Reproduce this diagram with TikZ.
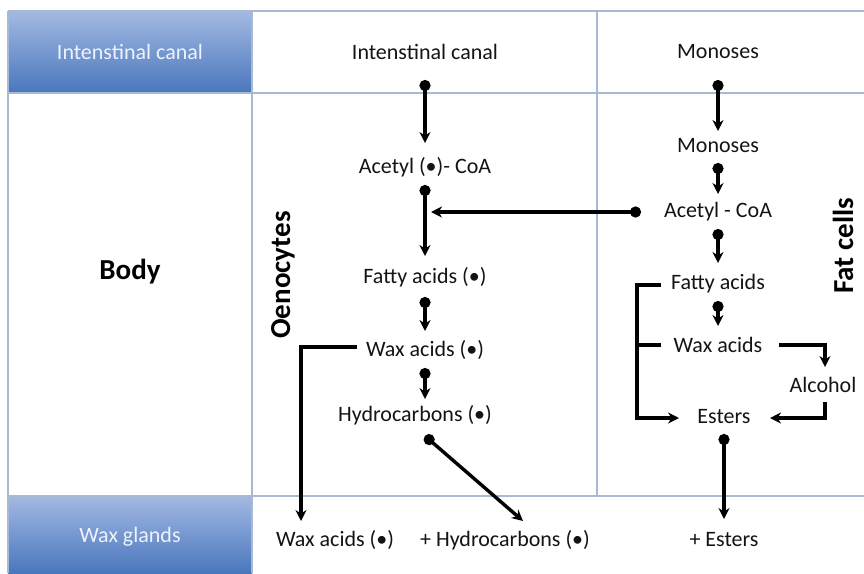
\documentclass[tikz,border=0pt]{standalone}
\usepackage{fontspec}
\setmainfont{Carlito}
\usetikzlibrary{arrows.meta}
\definecolor{gridc}{HTML}{A7B9D3}
\definecolor{bluetop}{HTML}{A3B9E2}
\definecolor{bluebot}{HTML}{4977BD}
\definecolor{celltext}{HTML}{EEF2FA}
\begin{document}
\begin{tikzpicture}[x=1pt,y=-1pt,
  lbl/.style={font=\fontsize{22}{24}\selectfont, inner sep=1pt, text=black!92},
  hdr/.style={font=\fontsize{22}{24}\selectfont, inner sep=1pt, text=celltext},
  big/.style={font=\fontsize{29}{32}\selectfont\bfseries, inner sep=1pt},
  gridl/.style={draw=gridc, line width=1.2pt},
  flow/.style={line width=3.4pt, -{Stealth[length=11pt,width=11pt]}},
  dotflow/.style={line width=3.4pt, {Circle[length=11pt,width=11pt]}-{Stealth[length=11pt,width=11pt]}},
  plain/.style={line width=3.4pt}]
\useasboundingbox (0,0) rectangle (864,573);
% blue header cells
\shade[top color=bluetop, bottom color=bluebot] (8,11) rectangle (252,93);
\shade[top color=bluetop, bottom color=bluebot] (8,496) rectangle (252,573);
% grid
\draw[gridl] (8,11) -- (864,11);
\draw[gridl] (8,93) -- (864,93);
\draw[gridl] (8,496) -- (864,496);
\draw[gridl] (8,11) -- (8,573);
\draw[gridl] (252,11) -- (252,573);
\draw[gridl] (597,11) -- (597,496);
% left column texts
\node[hdr] (h1) at (130,52) {Intenstinal canal};
\node[big] (body) at (130,272) {Body};
\node[hdr] (h3) at (130,537) {Wax glands};
% column headers
\node[lbl] (ic) at (425,52) {Intenstinal canal};
\node[lbl] (mo) at (718,52) {Monoses};
\node[big, rotate=90] (oeno) at (283,275) {Oenocytes};
\node[big, rotate=90] (fat) at (843,246) {Fat cells};
% oenocyte chain
\node[lbl] (ac1) at (425,167) {Acetyl (•)- CoA};
\node[lbl] (fa1) at (425,277) {Fatty acids (•)};
\node[lbl] (wa1) at (425,350) {Wax acids (•)};
\node[lbl] (hc1) at (415,415) {Hydrocarbons (•)};
% fat cell chain
\node[lbl] (mo2) at (718,146) {Monoses};
\node[lbl] (ac2) at (718,212) {Acetyl - CoA};
\node[lbl] (fa2) at (718,284) {Fatty acids};
\node[lbl] (wa2) at (718,345) {Wax acids};
\node[lbl] (al) at (823,385) {Alcohol};
\node[lbl] (es) at (724,417) {Esters};
% bottom row
\node[lbl] (wab) at (335,540) {Wax acids (•)};
\node[lbl] (hcb) at (505,540) {+ Hydrocarbons (•)};
\node[lbl] (esb) at (724,540) {+ Esters};
% coordinates
\coordinate (s1) at (425,80);
\coordinate (t1) at (425,143);
\coordinate (s2) at (425,185);
\coordinate (t2) at (425,256);
\coordinate (s3) at (641,212);
\coordinate (t3) at (431,212);
\coordinate (s4) at (425,297);
\coordinate (t4) at (425,331);
\coordinate (s5) at (425,368);
\coordinate (t5) at (425,399);
\coordinate (s6) at (425,436);
\coordinate (t6) at (523,521);
\coordinate (w0) at (357,347);
\coordinate (b1) at (301,347);
\coordinate (t7) at (301,521);
\coordinate (s8) at (718,80);
\coordinate (t8) at (718,131);
\coordinate (s9) at (718,163);
\coordinate (t9) at (718,194);
\coordinate (s10) at (718,229);
\coordinate (t10) at (718,263);
\coordinate (s11) at (718,301);
\coordinate (t11) at (718,326);
\coordinate (f0) at (661,285);
\coordinate (b2) at (637,285);
\coordinate (w2) at (661,345);
\coordinate (b3) at (637,345);
\coordinate (b4) at (637,418);
\coordinate (e1) at (679,418);
\coordinate (r0) at (779,345);
\coordinate (r1) at (825,345);
\coordinate (r2) at (825,367);
\coordinate (q0) at (825,402);
\coordinate (q1) at (825,418);
\coordinate (e2) at (770,418);
\coordinate (s12) at (724,434);
\coordinate (t12) at (724,519);
% oenocyte arrows
\draw[dotflow] (s1) -- (t1);
\draw[dotflow] (s2) -- (t2);
\draw[dotflow] (s3) -- (t3);
\draw[dotflow] (s4) -- (t4);
\draw[dotflow] (s5) -- (t5);
\draw[dotflow] (s6) -- (t6);
\draw[flow] (w0) -- (b1) -- (t7);
% fat cell arrows
\draw[dotflow] (s8) -- (t8);
\draw[dotflow] (s9) -- (t9);
\draw[dotflow] (s10) -- (t10);
\draw[dotflow] (s11) -- (t11);
\draw[flow] (r0) -- (r1) -- (r2);
\draw[flow] (q0) -- (q1) -- (e2);
\draw[flow] (f0) -- (b2) -- (b4) -- (e1);
\draw[plain] (b3) -- (w2);
\draw[dotflow] (s12) -- (t12);
\end{tikzpicture}
\end{document}
